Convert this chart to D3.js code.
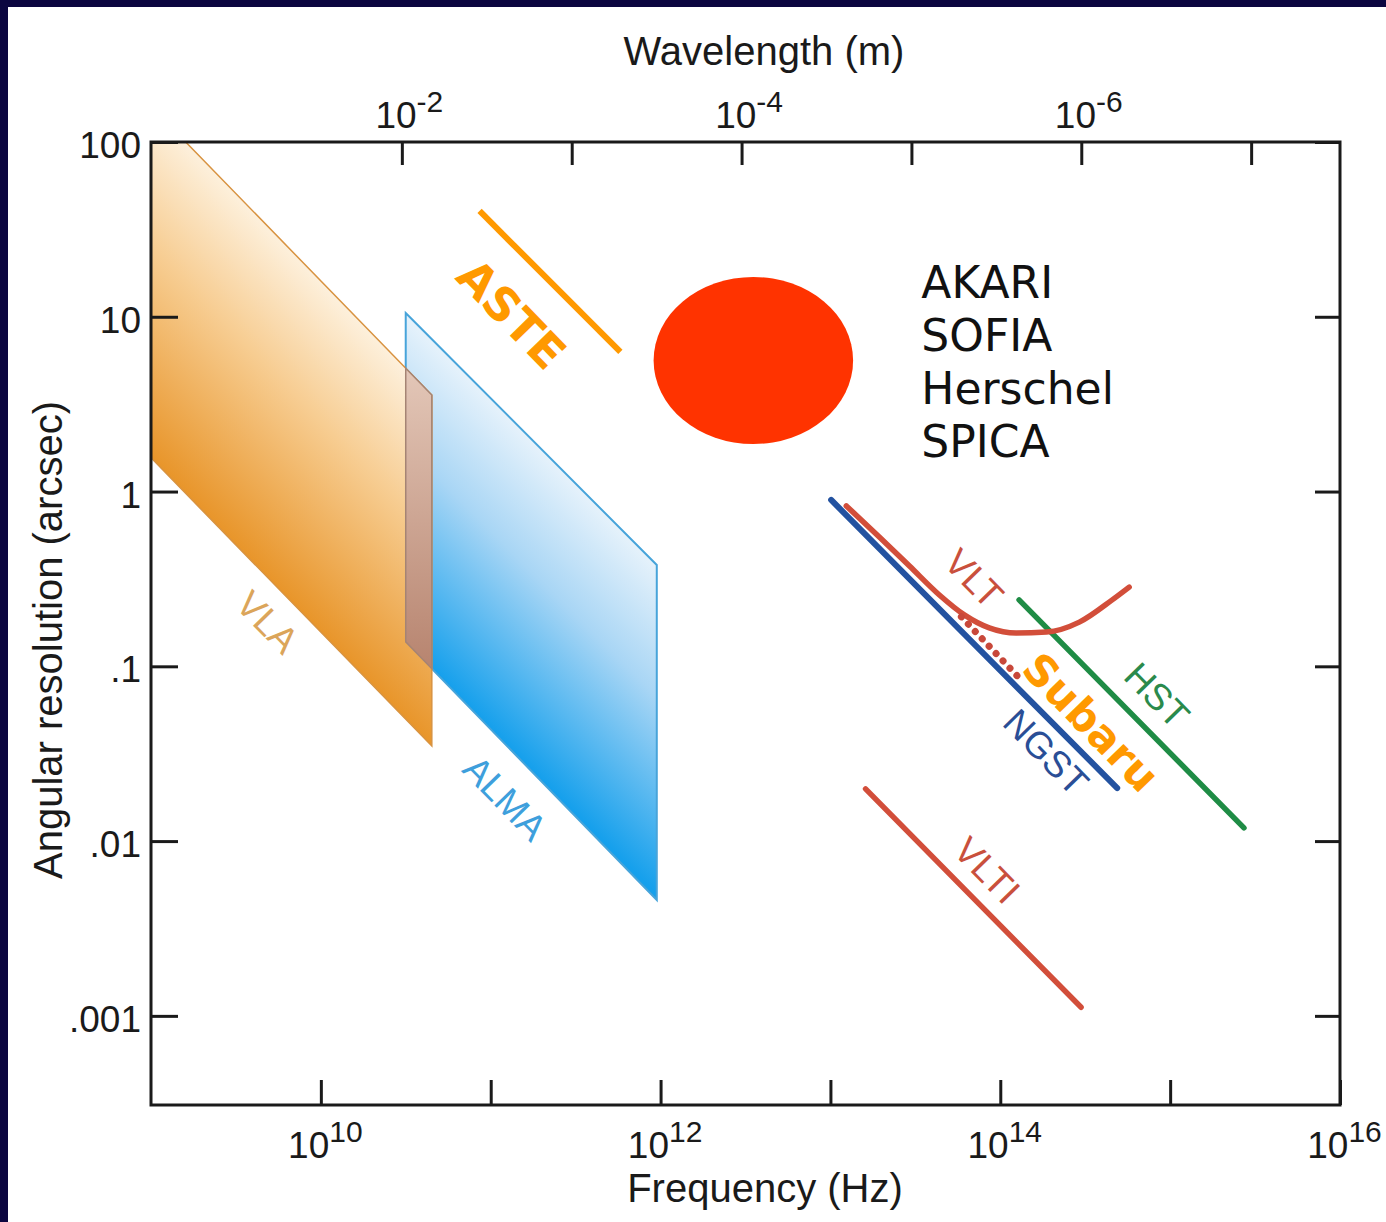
<!DOCTYPE html>
<html>
<head>
<meta charset="utf-8">
<script src="https://cdn.jsdelivr.net/npm/d3@7/dist/d3.min.js"></script>
<style>
  html, body { margin: 0; padding: 0; background: #fff; }
  svg { display: block; }
  .axis text { font-family: "Liberation Sans", Arial, sans-serif; fill: #1a1a1a; }
  .axis line { stroke: #1a1a1a; stroke-width: 3; }
  .axis .domain { display: none; }
</style>
</head>
<body>
<svg id="chart"></svg>
<script>
// frequency in Hz, resolution in arcsec
// parallelogram corners: top-left, top-right, bottom-right, bottom-left
var vlaFreq  = [1e9, 4.5e10, 4.5e10, 1e9];
var vlaRes   = [160, 3.57, 0.035, 1.56];
var almaFreq = [3.16e10, 9.5e11, 9.5e11, 3.16e10];
var almaRes  = [10.5, 0.38, 0.0046, 0.138];

// straight lines: start, end
var asteFreq = [8.6e10, 5.8e11];
var asteRes  = [40.3, 6.3];
var ngstFreq = [1.01e13, 4.88e14];
var ngstRes  = [0.895, 0.0201];
var hstFreq  = [1.29e14, 2.72e15];
var hstRes   = [0.24, 0.0119];
var vltiFreq = [1.61e13, 2.99e14];
var vltiRes  = [0.0199, 0.00112];

// VLT seeing curve + adaptive optics dots
var vltFreq = [1.24e13, 1.94e13, 2.92e13, 4.38e13, 6.14e13, 8.61e13, 1.24e14, 1.87e14, 2.92e14, 4.56e14, 5.74e14];
var vltRes  = [0.828, 0.55, 0.375, 0.256, 0.197, 0.166, 0.155, 0.157, 0.179, 0.240, 0.284];
var vltAoFreq = [5.9e13, 1.29e14];
var vltAoRes  = [0.192, 0.0859];

// far-IR satellites blob (extent)
var blobFreq = [9.1e11, 1.36e13];
var blobRes  = [1.87, 16.9];
var satellites = ["AKARI", "SOFIA", "Herschel", "SPICA"];
var satFreq = 3.43e13, satRes = 12.8;

// rotated labels
var labelNames = ["VLA", "ALMA", "ASTE", "VLT", "HST", "NGST", "Subaru", "VLTI"];
var labelFreq  = [4.87e9, 1.22e11, 1.33e11, 7.03e13, 8.4e14, 1.87e14, 3.43e14, 8.4e13];
var labelRes   = [0.18, 0.0177, 10.4, 0.32, 0.0686, 0.0324, 0.048, 0.00684];

// ticks
var freqTicks = [1e10, 1e11, 1e12, 1e13, 1e14, 1e15, 1e16];
var waveTicks = [1e-2, 1e-3, 1e-4, 1e-5, 1e-6, 1e-7];
var resTicks  = [100, 10, 1, 0.1, 0.01, 0.001];
var resLabels = ["100", "10", "1", ".1", ".01", ".001"];

var width = 1386, height = 1222;
var padL = 151, padT = 142, iw = 1189, ih = 963;
var c = 2.998e8;

var labelStyle = {
  "VLA":    {color: "#dba55a", font: "Liberation Sans", size: 37, weight: "normal"},
  "ALMA":   {color: "#3e9fdc", font: "Liberation Sans", size: 37, weight: "normal"},
  "ASTE":   {color: "#ff9900", font: "DejaVu Sans", size: 46, weight: "bold"},
  "VLT":    {color: "#c9503c", font: "Liberation Sans", size: 37, weight: "normal"},
  "HST":    {color: "#2a8a4c", font: "Liberation Sans", size: 37, weight: "normal"},
  "NGST":   {color: "#2a4e96", font: "Liberation Sans", size: 37, weight: "normal"},
  "Subaru": {color: "#ff9900", font: "DejaVu Sans", size: 43, weight: "bold"},
  "VLTI":   {color: "#c9503c", font: "Liberation Sans", size: 37, weight: "normal"}
};

var x = d3.scaleLog().domain([1e9, 1e16]).range([0, iw]);
var y = d3.scaleLog().domain([Math.pow(10, -3.51), 100]).range([ih, 0]);
var wl = d3.scaleLog().domain([c / 1e9, c / 1e16]).range([0, iw]);

var svg = d3.select("#chart").attr("width", width).attr("height", height);

// dark slide border
svg.append("rect").attr("x", 0).attr("y", 0).attr("width", width).attr("height", 7).attr("fill", "#0b0640");
svg.append("rect").attr("x", 0).attr("y", 0).attr("width", 8).attr("height", height).attr("fill", "#0b0640");

var defs = svg.append("defs");
defs.append("clipPath").attr("id", "plotclip")
  .append("rect").attr("width", iw).attr("height", ih);

var g = svg.append("g").attr("transform", "translate(" + padL + "," + padT + ")");
var plot = g.append("g").attr("clip-path", "url(#plotclip)");

function pts(fs, rs) {
  return fs.map(function(f, i) { return [x(f), y(rs[i])]; });
}

// log-log interpolation along an edge
function edgeAt(f0, r0, f1, r1, f) {
  var t = (Math.log10(f) - Math.log10(f0)) / (Math.log10(f1) - Math.log10(f0));
  return Math.pow(10, Math.log10(r0) + t * (Math.log10(r1) - Math.log10(r0)));
}

// gradient running across the band, perpendicular to its slanted edges
function bandGradient(id, p, stops) {
  var tl = p[0], tr = p[1], bl = p[3];
  var dx = tr[0] - tl[0], dy = tr[1] - tl[1], len = Math.hypot(dx, dy);
  var nx = -dy / len, ny = dx / len;
  var dist = (bl[0] - tl[0]) * nx + (bl[1] - tl[1]) * ny;
  var mx = (tl[0] + tr[0]) / 2, my = (tl[1] + tr[1]) / 2;
  var gr = defs.append("linearGradient").attr("id", id)
    .attr("gradientUnits", "userSpaceOnUse")
    .attr("x1", mx).attr("y1", my)
    .attr("x2", mx + nx * dist).attr("y2", my + ny * dist);
  stops.forEach(function(s) {
    gr.append("stop").attr("offset", s[0]).attr("stop-color", s[1]);
  });
}

var vlaPts = pts(vlaFreq, vlaRes);
var almaPts = pts(almaFreq, almaRes);

bandGradient("almaGrad", almaPts, [[0, "#e6f2fb"], [0.4, "#a9d6f5"], [1, "#16a0ec"]]);
bandGradient("vlaGrad", vlaPts, [[0, "#fdf0dc"], [0.4, "#f7cd92"], [1, "#e8952a"]]);

var line = d3.line();

// ALMA band
plot.append("path")
  .attr("d", line(almaPts) + "Z")
  .attr("fill", "url(#almaGrad)")
  .attr("stroke", "#47a4da")
  .attr("stroke-width", 2);

// VLA band
plot.append("path")
  .attr("d", line(vlaPts) + "Z")
  .attr("fill", "url(#vlaGrad)")
  .attr("stroke", "#d89341")
  .attr("stroke-width", 1.5);

// where the two bands overlap
var f0 = Math.max(vlaFreq[0], almaFreq[0]), f1 = Math.min(vlaFreq[1], almaFreq[1]);
function upperAt(f) {
  return Math.min(edgeAt(vlaFreq[0], vlaRes[0], vlaFreq[1], vlaRes[1], f),
                  edgeAt(almaFreq[0], almaRes[0], almaFreq[1], almaRes[1], f));
}
function lowerAt(f) {
  return Math.max(edgeAt(vlaFreq[3], vlaRes[3], vlaFreq[2], vlaRes[2], f),
                  edgeAt(almaFreq[3], almaRes[3], almaFreq[2], almaRes[2], f));
}
var ovPts = pts([f0, f1, f1, f0], [upperAt(f0), upperAt(f1), lowerAt(f1), lowerAt(f0)]);
var ovGrad = defs.append("linearGradient").attr("id", "ovGrad")
  .attr("x1", 0).attr("y1", 0).attr("x2", 0).attr("y2", 1);
ovGrad.append("stop").attr("offset", 0).attr("stop-color", "#e3c7b8");
ovGrad.append("stop").attr("offset", 1).attr("stop-color", "#b7846f");
plot.append("path")
  .attr("d", line(ovPts) + "Z")
  .attr("fill", "url(#ovGrad)")
  .attr("stroke", "#a58474")
  .attr("stroke-width", 1.5);

// ASTE
plot.append("path")
  .attr("d", line(pts(asteFreq, asteRes)))
  .attr("stroke", "#ff9900").attr("stroke-width", 6).attr("fill", "none");

// far-IR blob
plot.append("ellipse")
  .attr("cx", (x(blobFreq[0]) + x(blobFreq[1])) / 2)
  .attr("cy", (y(blobRes[0]) + y(blobRes[1])) / 2)
  .attr("rx", (x(blobFreq[1]) - x(blobFreq[0])) / 2)
  .attr("ry", (y(blobRes[0]) - y(blobRes[1])) / 2)
  .attr("fill", "#ff3300");

// optical / IR
plot.append("path")
  .attr("d", line(pts(hstFreq, hstRes)))
  .attr("stroke", "#1f8c45").attr("stroke-width", 5.5).attr("stroke-linecap", "round").attr("fill", "none");

plot.append("path")
  .attr("d", line(pts(ngstFreq, ngstRes)))
  .attr("stroke", "#2352a0").attr("stroke-width", 6).attr("stroke-linecap", "round").attr("fill", "none");

plot.append("path")
  .attr("d", d3.line().curve(d3.curveMonotoneX)(pts(vltFreq, vltRes)))
  .attr("stroke", "#d24e3a").attr("stroke-width", 5.5).attr("stroke-linecap", "round").attr("fill", "none");

plot.append("path")
  .attr("d", line(pts(vltAoFreq, vltAoRes)))
  .attr("stroke", "#c8483a").attr("stroke-width", 7).attr("stroke-linecap", "round")
  .attr("stroke-dasharray", "0.1,10").attr("fill", "none");

plot.append("path")
  .attr("d", line(pts(vltiFreq, vltiRes)))
  .attr("stroke", "#d24e3a").attr("stroke-width", 5.5).attr("stroke-linecap", "round").attr("fill", "none");

// rotated labels, along the slope of resolution ~ 1/frequency
var angle = Math.atan2(y(0.1) - y(1), x(1e11) - x(1e10)) * 180 / Math.PI;
labelNames.forEach(function(name, i) {
  var s = labelStyle[name];
  g.append("text")
    .attr("transform", "translate(" + x(labelFreq[i]) + "," + y(labelRes[i]) + ") rotate(" + angle + ")")
    .attr("text-anchor", "middle")
    .attr("dy", "0.36em")
    .style("font-family", s.font)
    .style("font-size", s.size + "px")
    .style("font-weight", s.weight)
    .attr("fill", s.color)
    .text(name);
});

// satellites list
var sat = g.append("text")
  .attr("x", x(satFreq)).attr("y", y(satRes))
  .style("font-family", "DejaVu Sans")
  .style("font-size", "44px")
  .attr("fill", "#111");
satellites.forEach(function(s, i) {
  sat.append("tspan").attr("x", x(satFreq)).attr("dy", i === 0 ? 0 : 53).text(s);
});

// power-of-ten labels
function power(t, e) {
  t.text(null);
  t.append("tspan").text("10");
  t.append("tspan").attr("dy", -16).style("font-size", "30px").text(e);
}
function expFormat(d) {
  var e = Math.round(Math.log10(d));
  return e % 2 === 0 ? String(e) : "";
}

// bottom axis
var gx = g.append("g").attr("class", "axis")
  .attr("transform", "translate(0," + ih + ")")
  .call(d3.axisBottom(x).tickValues(freqTicks).tickSize(-25).tickSizeOuter(0).tickFormat(expFormat));
gx.selectAll("text")
  .attr("y", 53).attr("dy", 0).attr("x", 4)
  .style("font-size", "37px")
  .each(function() { var t = d3.select(this), e = t.text(); if (e) power(t, e); });

// top axis, wavelength
var gw = g.append("g").attr("class", "axis")
  .call(d3.axisTop(wl).tickValues(waveTicks).tickSize(-23).tickSizeOuter(0).tickFormat(expFormat));
gw.selectAll("text")
  .attr("y", -14).attr("dy", 0).attr("x", 7)
  .style("font-size", "37px")
  .each(function() { var t = d3.select(this), e = t.text(); if (e) power(t, e); });

// left axis
var gy = g.append("g").attr("class", "axis")
  .call(d3.axisLeft(y).tickValues(resTicks).tickSize(-27).tickSizeOuter(0).tickPadding(10)
    .tickFormat(function(d, i) { return resLabels[i]; }));
gy.selectAll("text").attr("dy", "0.42em").style("font-size", "37px");

// right axis, ticks only
g.append("g").attr("class", "axis")
  .attr("transform", "translate(" + iw + ",0)")
  .call(d3.axisRight(y).tickValues(resTicks).tickSize(-25).tickSizeOuter(0).tickFormat(""));

// frame
g.append("rect")
  .attr("width", iw).attr("height", ih)
  .attr("fill", "none").attr("stroke", "#1a1a1a").attr("stroke-width", 3);

// axis titles
var titleFont = "\"Liberation Sans\", Arial, sans-serif";
svg.append("text")
  .attr("x", 764).attr("y", 65).attr("text-anchor", "middle")
  .style("font-family", titleFont).style("font-size", "40px").attr("fill", "#1a1a1a")
  .text("Wavelength (m)");
svg.append("text")
  .attr("x", 765).attr("y", 1202).attr("text-anchor", "middle")
  .style("font-family", titleFont).style("font-size", "40px").attr("fill", "#1a1a1a")
  .text("Frequency (Hz)");
svg.append("text")
  .attr("transform", "translate(62,640) rotate(-90)")
  .attr("text-anchor", "middle")
  .style("font-family", titleFont).style("font-size", "40px").attr("fill", "#1a1a1a")
  .text("Angular resolution (arcsec)");
</script>
</body>
</html>
